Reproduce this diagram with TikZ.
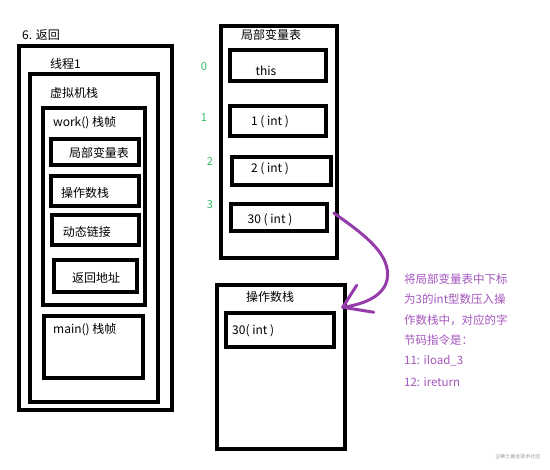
\documentclass[tikz,border=0pt]{standalone}
\usepackage{fontspec}
\setmainfont{Noto Sans CJK SC}
\usetikzlibrary{calc}
\definecolor{arrowpurple}{RGB}{150,60,170}
\definecolor{textpurple}{RGB}{165,85,190}
\definecolor{idxgreen}{RGB}{50,190,100}
\tikzset{
  box/.style={draw=black, line width=3.5pt, inner sep=0pt, fill=white},
  lbl/.style={inner sep=0pt, font=\fontsize{12}{14}\selectfont},
  idx/.style={inner sep=0pt, text=idxgreen, font=\fontsize{11}{13}\selectfont},
  note/.style={inner sep=0pt, anchor=west, text=textpurple, font=\fontsize{11.5}{13}\selectfont},
  purplearrow/.style={draw=arrowpurple, line width=3pt, line cap=round, line join=round}
}
\begin{document}
\begin{tikzpicture}[x=1pt,y=-1pt]
\useasboundingbox[fill=white] (0,0) rectangle (550,470);
% left stack
\node[box, minimum width=153pt, minimum height=364pt] (outer) at (95.5,228) {};
\node[box, minimum width=128pt, minimum height=328pt] (thread) at (94,238) {};
\node[box, minimum width=102pt, minimum height=197pt] (work) at (94,206.5) {};
\node[box, minimum width=88pt, minimum height=26pt] (lvs) at (95,152) {};
\node[box, minimum width=88pt, minimum height=30pt] (oss) at (95,191) {};
\node[box, minimum width=87pt, minimum height=30pt] (dl) at (95.5,230) {};
\node[box, minimum width=83pt, minimum height=32pt] (ra) at (95.5,276) {};
\node[box, minimum width=99pt, minimum height=62pt] (mainf) at (93.5,347) {};
\node[lbl, anchor=west] (t6) at (22,35) {6. 返回};
\node[lbl, anchor=west] (tth) at (50,64) {线程1};
\node[lbl, anchor=west] (tvm) at (50,93) {虚拟机栈};
\node[lbl, anchor=west] (twork) at (53,123) {work() 栈帧};
\node[lbl] (tlvs) at (99,153) {局部变量表};
\node[lbl] (toss) at (85,193) {操作数栈};
\node[lbl] (tdl) at (87,232) {动态链接};
\node[lbl] (tra) at (96,278) {返回地址};
\node[lbl, anchor=west] (tmain) at (53,330) {main() 栈帧};
% local variable table
\node[box, minimum width=116pt, minimum height=232pt] (lvt) at (279,142) {};
\node[lbl] (tlvt) at (271,35) {局部变量表};
\node[box, minimum width=96pt, minimum height=31pt] (v0) at (278,65.5) {};
\node[box, minimum width=96pt, minimum height=30pt] (v1) at (278,121) {};
\node[box, minimum width=99pt, minimum height=28pt] (v2) at (281.5,171) {};
\node[box, minimum width=96pt, minimum height=27pt] (v3) at (279,217.5) {};
\node[lbl] (tv0) at (266,71) {this};
\node[lbl] (tv1) at (270,122) {1 ( int )};
\node[lbl] (tv2) at (270,169) {2 ( int )};
\node[lbl] (tv3) at (270,220) {30 ( int )};
\node[idx] (i0) at (204,67) {0};
\node[idx] (i1) at (204,118) {1};
\node[idx] (i2) at (210,162) {2};
\node[idx] (i3) at (210,205) {3};
% operand stack
\node[box, minimum width=128pt, minimum height=164pt] (ost) at (281,367) {};
\node[lbl] (tost) at (270,297) {操作数栈};
\node[box, minimum width=108pt, minimum height=34pt] (os0) at (280,330) {};
\node[lbl, anchor=west] (tos0) at (232,331) {30( int )};
% arrow
\coordinate (tip) at ([xshift=7pt,yshift=4pt]os0.north east);
\draw[purplearrow] ([xshift=5pt,yshift=4.5pt]v3.east) .. controls (365,235) and (392,255) .. (387,280) .. controls (383,298) and (360,305) .. (tip);
\draw[purplearrow] ($(tip)+(14,-22)$) -- (tip) -- ($(tip)+(31,5)$);
% note
\node[note] (n1) at (404,279) {将局部变量表中下标};
\node[note] (n2) at (404,299) {为3的int型数压入操};
\node[note] (n3) at (404,320) {作数栈中，对应的字};
\node[note] (n4) at (404,340) {节码指令是：};
\node[note] (n5) at (404,361) {11: iload\_3};
\node[note] (n6) at (404,382) {12: ireturn};
\node[inner sep=0pt, text=black!40, font=\fontsize{5}{6}\selectfont] (wm) at (518,457) {@稀土掘金技术社区};
\end{tikzpicture}
\end{document}
